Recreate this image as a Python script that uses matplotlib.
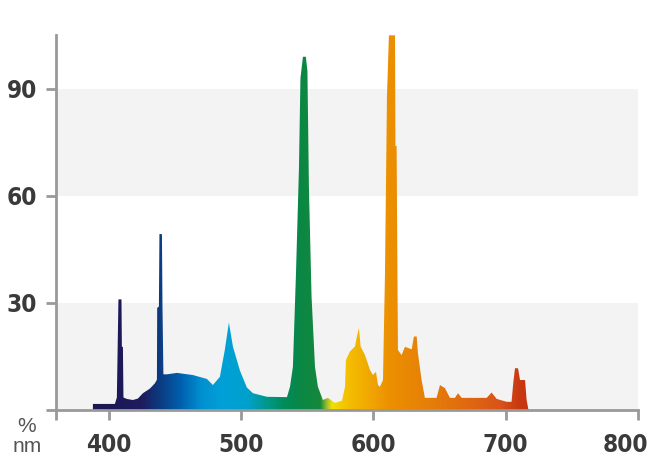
import numpy as np
import matplotlib
matplotlib.use("Agg")
import matplotlib.pyplot as plt
from matplotlib import font_manager
from matplotlib.colors import LinearSegmentedColormap
from matplotlib.transforms import ScaledTranslation

# ---- data ----
wavelength_nm = [387.9, 404.5, 406.0, 407.2, 409.5, 409.8, 410.6, 411.0, 413.6, 418.1,
                 421.9, 425.7, 431.0, 434.8, 436.3, 436.5, 437.8, 438.2, 440.1, 440.5,
                 441.2, 443.9, 451.4, 463.5, 474.1, 478.6, 483.9, 487.7, 490.7, 493.8,
                 499.1, 504.3, 508.9, 514.2, 519.5, 534.6, 536.9, 539.1, 541.4, 543.7,
                 544.8, 546.7, 548.9, 550.1, 551.2, 553.2, 555.8, 558.0, 561.8, 565.6,
                 570.9, 576.2, 578.5, 579.2, 582.2, 586.0, 587.5, 589.0, 590.3, 593.6,
                 597.4, 599.6, 601.9, 603.4, 604.9, 607.2, 608.7, 610.2, 611.7, 616.3,
                 616.6, 617.5, 618.5, 621.3, 623.8, 626.1, 628.9, 630.6, 632.7, 633.6,
                 636.4, 638.9, 647.7, 650.3, 654.1, 657.8, 661.6, 663.9, 666.7, 685.6,
                 689.3, 693.2, 700.7, 704.4, 705.8, 707.0, 709.3, 710.8, 714.6, 715.8,
                 717.2]
intensity_pct = [1.7, 1.7, 3.5, 31.0, 31.0, 17.7, 17.7, 3.5, 3.1, 2.8,
                 3.2, 4.7, 6.0, 7.5, 8.5, 28.6, 29.0, 49.3, 49.3, 29.0,
                 10.0, 10.0, 10.4, 9.8, 8.7, 7.0, 9.3, 17.0, 24.5, 17.7,
                 11.0, 6.3, 4.7, 4.2, 3.7, 3.6, 6.5, 12.1, 38.0, 68.0,
                 93.0, 99.0, 99.0, 95.0, 62.6, 31.8, 12.1, 6.5, 2.8, 3.4,
                 2.0, 2.6, 6.5, 14.0, 16.4, 17.8, 20.6, 23.0, 17.8, 15.4,
                 11.2, 9.8, 10.7, 7.0, 6.5, 8.4, 38.0, 87.8, 105.0, 105.0,
                 74.0, 74.0, 16.8, 15.4, 17.7, 17.4, 17.0, 20.6, 20.6, 16.0,
                 8.4, 3.4, 3.4, 7.0, 6.1, 3.4, 3.4, 4.7, 3.4, 3.4,
                 4.9, 3.1, 2.3, 2.3, 8.0, 11.7, 11.7, 8.4, 8.4, 2.8,
                 0.0]

x_ticks = [360, 400, 500, 600, 700, 800]
x_tick_labels = ["", "400", "500", "600", "700", "800"]
y_ticks = [0, 30, 60, 90]
y_tick_labels = ["", "30", "60", "90"]

# spectral colour stops (nm, colour)
grad_nm = [380, 425, 438, 455, 470, 485, 505, 520, 532, 546, 560, 565, 569,
           580, 597, 612, 643, 670, 696, 711, 725]
grad_col = ["#1c1650", "#1e1c5e", "#0c3a80", "#0062b0", "#0090d0", "#00a0d8",
            "#00a0cc", "#009888", "#008c5a", "#0b8744", "#16883c", "#a0c030",
            "#f0e000", "#f5c000", "#f0a800", "#ec9000", "#e67e08", "#e06a10",
            "#d85418", "#c83810", "#c43010"]

# ---- pick a condensed bold font if one is installed ----
def find_condensed_bold():
    cands = []
    for f in font_manager.fontManager.ttflist:
        nm = f.name.lower()
        narrow = ("narrow" in nm or "condensed" in nm or
                  str(f.stretch).lower() in ("condensed", "semi-condensed", "extra-condensed"))
        w = f.weight if isinstance(f.weight, int) else {"bold": 700}.get(str(f.weight), 400)
        if narrow and w >= 600 and f.style == "normal":
            cands.append(f)
    pref = ["liberation sans narrow", "dejavu sans", "roboto", "open sans", "noto sans"]
    for p in pref:
        for f in cands:
            if f.name.lower().startswith(p):
                return f.fname
    return cands[0].fname if cands else None

cond = find_condensed_bold()
if cond:
    tick_fp = font_manager.FontProperties(fname=cond, size=17.5)
else:
    tick_fp = font_manager.FontProperties(family="Roboto", weight="bold", size=16.5)

# ---- figure ----
W, H = 650, 472
fig = plt.figure(figsize=(W / 100, H / 100), dpi=100)
ax = fig.add_axes([56 / W, 1 - 410 / H, (638 - 56) / W, (410 - 35) / H])
ax.set_xlim(360, 800)
ax.set_ylim(0, 105.1)

# background bands
for lo, hi in [(0, 30), (60, 90)]:
    ax.axhspan(lo, hi, color="#f3f3f3", lw=0, zorder=0)

# gradient-filled spectrum
g0, g1 = grad_nm[0], grad_nm[-1]
cmap = LinearSegmentedColormap.from_list(
    "spec", [((n - g0) / (g1 - g0), c) for n, c in zip(grad_nm, grad_col)], N=512)
poly = ax.fill_between(wavelength_nm, 0, intensity_pct, color="none", lw=0, zorder=2)
grad = np.linspace(0, 1, 800).reshape(1, -1)
im = ax.imshow(grad, cmap=cmap, extent=[g0, g1, 0, 106], aspect="auto",
               interpolation="bilinear", zorder=2)
im.set_clip_path(poly.get_paths()[0], transform=ax.transData)

# axes styling
for s in ["top", "right"]:
    ax.spines[s].set_visible(False)
for s in ["left", "bottom"]:
    ax.spines[s].set_color("#999999")
    ax.spines[s].set_linewidth(2)

ax.set_xticks(x_ticks)
ax.set_xticklabels(x_tick_labels, color="#3a3a3a", fontproperties=tick_fp)
ax.set_yticks(y_ticks)
ax.set_yticklabels(y_tick_labels, color="#3a3a3a", fontproperties=tick_fp)
ax.tick_params(axis="both", direction="out", length=7.5, width=2, color="#999999")
ax.tick_params(axis="x", pad=9)
ax.tick_params(axis="y", pad=6)

# keep the last x label inside the canvas
last = ax.get_xticklabels()[-1]
last.set_transform(last.get_transform() + ScaledTranslation(-0.13, 0, fig.dpi_scale_trans))

fig.text(27 / W, 1 - 426 / H, "%", ha="center", va="center", color="#555555",
         fontsize=15, family=["Liberation Sans", "DejaVu Sans"])
fig.text(27 / W, 1 - 446 / H, "nm", ha="center", va="center", color="#555555",
         fontsize=15, family=["Liberation Sans", "DejaVu Sans"])

fig.savefig("out.png", dpi=100)
